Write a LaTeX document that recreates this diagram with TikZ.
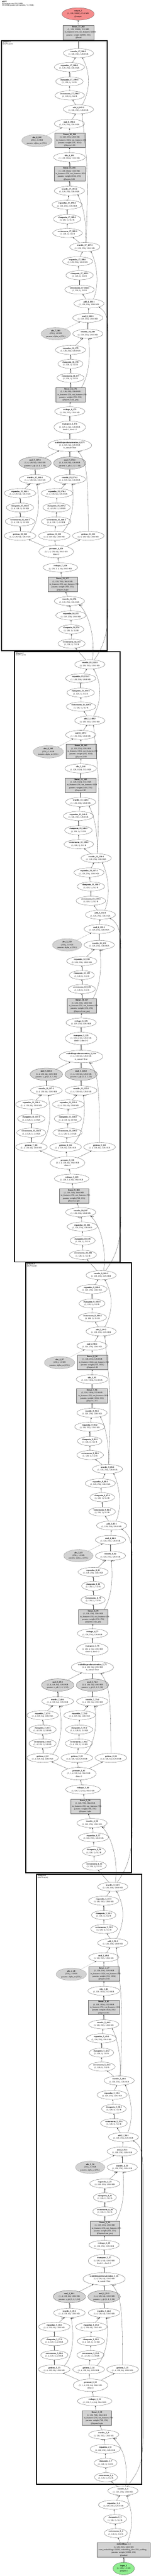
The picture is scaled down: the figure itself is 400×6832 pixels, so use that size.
\documentclass[tikz,border=0pt]{standalone}
\usepackage{fontspec}
\setmainfont{Liberation Serif}
\usetikzlibrary{shapes.geometric,arrows.meta}

\definecolor{parfill}{RGB}{211,211,211}
\definecolor{outfill}{RGB}{245,140,140}
\definecolor{infill}{RGB}{144,238,144}

\newcommand{\nodefont}{\fontsize{5.5}{7.3}\selectfont}
\newcommand{\hdrfont}{\fontsize{5}{5}\selectfont}
\newcommand{\argfont}{\fontsize{3.6}{4}\selectfont\bfseries}
\newcommand{\nm}[1]{\textbf{#1}}
\newcommand{\lng}[2]{\makebox[#1][l]{#2}}
\newcommand{\ix}[1]{\the\numexpr\tbase+#1\relax}

\tikzset{every picture/.style={line width=0.4pt}}
\tikzset{
  opnode/.style={ellipse, draw=black!75, inner xsep=2pt, inner ysep=1.5pt, minimum height=24pt, align=center, font=\nodefont},
  tall/.style={minimum height=33pt},
  parnode/.style={opnode, tall, fill=parfill},
  absnode/.style={opnode, tall, fill=parfill, dash pattern={on 1.5pt off 1.5pt}},
  modbox/.style={rectangle, draw=black!60, fill=parfill, inner xsep=4.5pt, inner ysep=2pt, align=center, font=\nodefont},
  conn/.style={draw=black!75, -{Triangle[length=3.6pt,width=2.6pt]}},
  dconn/.style={conn, dash pattern={on 1.5pt off 1.5pt}},
  argtxt/.style={font=\argfont, inner sep=0.6pt},
  clusterbox/.style={draw=black, line width=2.6pt},
  cltext/.style={anchor=north west, align=left, inner sep=0pt, font=\hdrfont},
}

% one nGPTLayer: #1 layer, #2 #3 shift, #4 input node, #5 #6 cluster left/right
\newcommand{\nlayer}[6]{%
\begin{scope}[shift={(#2,#3)}]
\pgfmathtruncatemacro\tbase{6+49*#1}
\pgfmathtruncatemacro\nva{2+4*#1}
\pgfmathtruncatemacro\nvb{3+4*#1}
\pgfmathtruncatemacro\nvc{4+4*#1}
\pgfmathtruncatemacro\nvd{5+4*#1}
\pgfmathtruncatemacro\nla{1+4*#1}
\pgfmathtruncatemacro\nlb{2+4*#1}
\pgfmathtruncatemacro\nlc{3+4*#1}
\pgfmathtruncatemacro\nld{4+4*#1}
\pgfmathtruncatemacro\nra{1+2*#1}
\pgfmathtruncatemacro\nrb{2+2*#1}
\pgfmathtruncatemacro\nk{1+#1}
\pgfmathtruncatemacro\nga{1+3*#1}
\pgfmathtruncatemacro\ngb{2+3*#1}
\pgfmathtruncatemacro\ngc{3+3*#1}
%Cluster
\draw[clusterbox] (#5,108) rectangle (#6,1726);
\node[cltext] (cl-#1) at (#5+3,109.5) {\textbf{@layers.#1}\\(nGPTLayer)};
%Input norm
\node[opnode] (vna-#1) at (190,1707) {\nm{vectornorm\_\nva\_\ix0}\\(1, 128, 1), 512 B};
\node[opnode] (cma-#1) at (189,1669) {\nm{clampmin\_\nva\_\ix1}\\(1, 128, 1), 512 B};
\node[opnode] (exa-#1) at (188,1632) {\nm{expandas\_\nva\_\ix2}\\(1, 128, 256), 128.0 KB};
\node[opnode] (tda-#1) at (184,1594) {\nm{truediv\_\nva\_\ix3}\\(1, 128, 256), 128.0 KB};
%Attention
\node[modbox] (qkv-#1) at (166,1550) {\nm{linear\_\nla\_\ix4}\\(1, 128, 768), 384.0 KB\\\lng{69pt}{in\_features=256, out\_features=768}\\params: weight (768, 256)\\@layers.#1.qkv};
\node[opnode] (rsa-#1) at (160,1505) {\nm{reshape\_\nra\_\ix5}\\(1, 128, 3, 4, 64), 384.0 KB};
\node[opnode, tall] (prm-#1) at (149,1463) {\nm{permute\_\nk\_\ix6}\\(3, 1, 4, 128, 64), 384.0 KB\\dims=2};
\node[opnode] (gia-#1) at (53,1421) {\nm{getitem\_\nga\_\ix7}\\(1, 4, 128, 64), 128.0 KB};
\node[opnode] (gib-#1) at (144,1421) {\nm{getitem\_\ngb\_\ix8}\\(1, 4, 128, 64), 128.0 KB};
\node[opnode] (gic-#1) at (234,1421) {\nm{getitem\_\ngc\_\ix9}\\(1, 4, 128, 64), 128.0 KB};
\node[opnode] (vnb1-#1) at (53,1383) {\nm{vectornorm\_\nvb\_\ix{10}:1}\\(1, 4, 128, 1), 2.0 KB};
\node[opnode] (cmb1-#1) at (53,1346) {\nm{clampmin\_\nvb\_\ix{11}:1}\\(1, 4, 128, 1), 2.0 KB};
\node[opnode] (exb1-#1) at (53,1308) {\nm{expandas\_\nvb\_\ix{12}:1}\\(1, 4, 128, 64), 128.0 KB};
\node[opnode] (tdb1-#1) at (93,1271) {\nm{truediv\_\nvb\_\ix{13}:1}\\(1, 4, 128, 64), 128.0 KB};
\node[parnode] (mqa-#1) at (93,1228) {\nm{mul\_\nra\_\ix{14}:1}\\(1, 4, 128, 64), 128.0 KB\\params: s\_qk (1, 4, 1, 64)};
\node[opnode] (vnb2-#1) at (149,1383) {\nm{vectornorm\_\nvb\_\ix{15}:2}\\(1, 4, 128, 1), 2.0 KB};
\node[opnode] (cmb2-#1) at (150,1346) {\nm{clampmin\_\nvb\_\ix{16}:2}\\(1, 4, 128, 1), 2.0 KB};
\node[opnode] (exb2-#1) at (151,1308) {\nm{expandas\_\nvb\_\ix{17}:2}\\(1, 4, 128, 64), 128.0 KB};
\node[opnode] (tdb2-#1) at (185,1271) {\nm{truediv\_\nvb\_\ix{18}:2}\\(1, 4, 128, 64), 128.0 KB};
\node[parnode] (mqb-#1) at (185,1228) {\nm{mul\_\nra\_\ix{19}:2}\\(1, 4, 128, 64), 128.0 KB\\params: s\_qk (1, 4, 1, 64)};
\node[opnode, tall] (sdp-#1) at (185,1181) {\nm{scaleddotproductattention\_\nk\_\ix{20}}\\(1, 4, 128, 64), 128.0 KB\\is\_causal=True};
\node[opnode, tall] (trp-#1) at (185,1133) {\nm{transpose\_\nk\_\ix{21}}\\(1, 128, 4, 64), 128.0 KB\\dim0=1, dim1=2};
\node[opnode] (rsb-#1) at (185,1091) {\nm{reshape\_\nrb\_\ix{22}}\\(1, 128, 256), 128.0 KB};
\node[modbox] (prj-#1) at (187,1047) {\nm{linear\_\nlb\_\ix{23}}\\(1, 128, 256), 128.0 KB\\\lng{69pt}{in\_features=256, out\_features=256}\\params: weight (256, 256)\\@layers.#1.out\_proj};
\node[opnode] (vnc-#1) at (187,1002) {\nm{vectornorm\_\nvc\_\ix{24}}\\(1, 128, 1), 512 B};
\node[opnode] (cmc-#1) at (187,965) {\nm{clampmin\_\nvc\_\ix{25}}\\(1, 128, 1), 512 B};
\node[opnode] (exc-#1) at (187,928) {\nm{expandas\_\nvc\_\ix{26}}\\(1, 128, 256), 128.0 KB};
\node[opnode] (tdc-#1) at (233,885) {\nm{truediv\_\nvc\_\ix{27}}\\(1, 128, 256), 128.0 KB};
\node[absnode] (aba-#1) at (148,885) {\nm{abs\_\nra\_\ix{28}}\\(256,), 1.0 KB\\params: alpha\_a (256,)};
\node[opnode] (mab-#1) at (233,843) {\nm{mul\_\nrb\_\ix{29}:1}\\(1, 128, 256), 128.0 KB};
\node[opnode] (ada-#1) at (236,805) {\nm{add\_\nk\_\ix{30}:1}\\(1, 128, 256), 128.0 KB};
%Residual norms
\node[opnode] (vnd1-#1) at (211,768) {\nm{vectornorm\_\nvd\_\ix{31}:1}\\(1, 128, 1), 512 B};
\node[opnode] (cmd1-#1) at (211,730) {\nm{clampmin\_\nvd\_\ix{32}:1}\\(1, 128, 1), 512 B};
\node[opnode] (exd1-#1) at (206,693) {\nm{expandas\_\nvd\_\ix{33}:1}\\(1, 128, 256), 128.0 KB};
\node[opnode] (tdd1-#1) at (225,655) {\nm{truediv\_\nvd\_\ix{34}:1}\\(1, 128, 256), 128.0 KB};
\node[opnode] (vnd2-#1) at (179,618) {\nm{vectornorm\_\nvd\_\ix{35}:2}\\(1, 128, 1), 512 B};
\node[opnode] (cmd2-#1) at (178,581) {\nm{clampmin\_\nvd\_\ix{36}:2}\\(1, 128, 1), 512 B};
\node[opnode] (exd2-#1) at (178,543) {\nm{expandas\_\nvd\_\ix{37}:2}\\(1, 128, 256), 128.0 KB};
\node[opnode] (tdd2-#1) at (184,506) {\nm{truediv\_\nvd\_\ix{38}:2}\\(1, 128, 256), 128.0 KB};
%Feed forward
\node[modbox] (ffa-#1) at (184,461) {\nm{linear\_\nlc\_\ix{39}}\\(1, 128, 1024), 512.0 KB\\\lng{73pt}{in\_features=256, out\_features=1024}\\params: weight (1024, 256)\\@layers.#1.ff1};
\node[opnode] (slu-#1) at (184,417) {\nm{silu\_\nk\_\ix{40}}\\(1, 128, 1024), 512.0 KB};
\node[modbox] (ffb-#1) at (185,372) {\nm{linear\_\nld\_\ix{41}}\\(1, 128, 256), 128.0 KB\\\lng{72pt}{in\_features=1024, out\_features=256}\\params: weight (256, 1024)\\@layers.#1.ff2};
\node[absnode] (abb-#1) at (98,373) {\nm{abs\_\nrb\_\ix{42}}\\(256,), 1.0 KB\\params: alpha\_m (256,)};
\node[opnode] (mbb-#1) at (184,328) {\nm{mul\_\nrb\_\ix{43}:2}\\(1, 128, 256), 128.0 KB};
\node[opnode] (adb-#1) at (208,290) {\nm{add\_\nk\_\ix{44}:2}\\(1, 128, 256), 128.0 KB};
\node[opnode] (vnd3-#1) at (185,253) {\nm{vectornorm\_\nvd\_\ix{45}:3}\\(1, 128, 1), 512 B};
\node[opnode] (cmd3-#1) at (184,216) {\nm{clampmin\_\nvd\_\ix{46}:3}\\(1, 128, 1), 512 B};
\node[opnode] (exd3-#1) at (184,178) {\nm{expandas\_\nvd\_\ix{47}:3}\\(1, 128, 256), 128.0 KB};
\node[opnode] (tdd3-#1) at (208,141) {\nm{truediv\_\nvd\_\ix{48}:3}\\(1, 128, 256), 128.0 KB};
%Connectors
\draw[conn] (#4) -- (vna-#1);
\draw[conn] (vna-#1) -- (cma-#1);
\draw[conn] (cma-#1) -- (exa-#1);
\draw[conn] (exa-#1) -- (tda-#1) node[argtxt, pos=1, anchor=north east] {arg 1};
\draw[conn] (#4.60) .. controls +(8,-60) and +(25,25) .. (tda-#1.-20) node[argtxt, pos=1, anchor=north west] {arg 0};
\draw[conn] (tda-#1) -- (qkv-#1);
\draw[conn] (qkv-#1) -- (rsa-#1);
\draw[conn] (rsa-#1) -- (prm-#1);
\draw[conn] (prm-#1) -- (gia-#1);
\draw[conn] (prm-#1) -- (gib-#1);
\draw[conn] (prm-#1) -- (gic-#1);
\draw[conn] (gia-#1) -- (vnb1-#1);
\draw[conn] (vnb1-#1) -- (cmb1-#1);
\draw[conn] (cmb1-#1) -- (exb1-#1);
\draw[conn] (exb1-#1) -- (tdb1-#1) node[argtxt, pos=1, anchor=north east] {arg 1};
\draw[conn] (gia-#1.20) .. controls +(25,-25) and +(8,45) .. (tdb1-#1.-70) node[argtxt, pos=1, anchor=north west] {arg 0};
\draw[conn] (tdb1-#1) -- (mqa-#1);
\draw[conn] (mqa-#1) -- (sdp-#1);
\draw[conn] (gib-#1) -- (vnb2-#1);
\draw[conn] (vnb2-#1) -- (cmb2-#1);
\draw[conn] (cmb2-#1) -- (exb2-#1);
\draw[conn] (exb2-#1) -- (tdb2-#1) node[argtxt, pos=1, anchor=north east] {arg 1};
\draw[conn] (gib-#1.25) .. controls +(25,-25) and +(8,45) .. (tdb2-#1.-65) node[argtxt, pos=1, anchor=north west] {arg 0};
\draw[conn] (tdb2-#1) -- (mqb-#1);
\draw[conn] (mqb-#1) -- (sdp-#1);
\draw[conn] (gic-#1.north) .. controls +(0,-170) and +(20,30) .. (sdp-#1.-35) node[argtxt, pos=1, anchor=north west] {arg 2};
\draw[conn] (sdp-#1) -- (trp-#1);
\draw[conn] (trp-#1) -- (rsb-#1);
\draw[conn] (rsb-#1) -- (prj-#1);
\draw[conn] (prj-#1) -- (vnc-#1);
\draw[conn] (vnc-#1) -- (cmc-#1);
\draw[conn] (cmc-#1) -- (exc-#1);
\draw[conn] (exc-#1) -- (tdc-#1) node[argtxt, pos=1, anchor=north east] {arg 1};
\draw[conn] ([xshift=29pt]prj-#1.north) .. controls +(20,-35) and +(4,55) .. (tdc-#1.-80) node[argtxt, pos=1, anchor=north west] {arg 0};
\draw[conn] (tdc-#1) -- (mab-#1);
\draw[dconn] (aba-#1) -- (mab-#1);
\draw[conn] (mab-#1) -- (ada-#1);
\draw[conn] (#4.45) .. controls +(25,-35) and +(0,80) .. (#6+3,1600) -- (#6+3,900) .. controls +(0,-40) and +(25,15) .. (ada-#1.-20);
\draw[conn] (ada-#1) -- (vnd1-#1);
\draw[conn] (vnd1-#1) -- (cmd1-#1);
\draw[conn] (cmd1-#1) -- (exd1-#1);
\draw[conn] (exd1-#1) -- (tdd1-#1);
\draw[conn] (ada-#1.45) .. controls +(15,-35) and +(18,40) .. (tdd1-#1.-35);
\draw[conn] (tdd1-#1) -- (vnd2-#1);
\draw[conn] (vnd2-#1) -- (cmd2-#1);
\draw[conn] (cmd2-#1) -- (exd2-#1);
\draw[conn] (exd2-#1) -- (tdd2-#1);
\draw[conn] (tdd1-#1.80) .. controls +(3,-50) and +(15,30) .. (tdd2-#1.-25);
\draw[conn] (tdd1-#1.75) .. controls +(8,-220) and +(10,120) .. (adb-#1.-50);
\draw[conn] (tdd2-#1) -- (ffa-#1);
\draw[conn] (ffa-#1) -- (slu-#1);
\draw[conn] (slu-#1) -- (ffb-#1);
\draw[conn] (ffb-#1) -- (mbb-#1);
\draw[dconn] (abb-#1) -- (mbb-#1);
\draw[conn] (mbb-#1) -- (adb-#1);
\draw[conn] (adb-#1) -- (vnd3-#1);
\draw[conn] (vnd3-#1) -- (cmd3-#1);
\draw[conn] (cmd3-#1) -- (exd3-#1);
\draw[conn] (exd3-#1) -- (tdd3-#1);
\draw[conn] (adb-#1.50) .. controls +(22,-40) and +(22,40) .. (tdd3-#1.-50);
\end{scope}}

\begin{document}
\begin{tikzpicture}[x=1pt,y=1pt,yscale=-1,xscale=1]
\useasboundingbox (0,0) rectangle (400,6832);

% Text Node
\node[cltext] (title) at (5,2.5) {\textbf{nGPT}\\204 tensors total (54.2 MB)\\19532800 params (all trainable, 74.5 MB)};

%Input and embedding
\node[opnode, tall, fill=infill] (inp) at (328,6812) {\nm{input\_1}\\(1, 128), 1.0 KB\\@input.x};
\node[modbox] (emb) at (328,6763) {\nm{embedding\_1\_1}\\(1, 128, 256), 128.0 KB\\\lng{132pt}{num\_embeddings=32000, embedding\_dim=256, padding}\\params: weight (32000, 256)\\@embed};
\node[opnode] (vn0) at (307,6718) {\nm{vectornorm\_1\_2}\\(1, 128, 1), 512 B};
\node[opnode] (cm0) at (305,6681) {\nm{clampmin\_1\_3}\\(1, 128, 1), 512 B};
\node[opnode] (ex0) at (301,6643) {\nm{expandas\_1\_4}\\(1, 128, 256), 128.0 KB};
\node[opnode] (td0) at (326,6606) {\nm{truediv\_1\_5}\\(1, 128, 256), 128.0 KB};
\draw[conn] (inp) -- (emb);
\draw[conn] (emb) -- (vn0);
\draw[conn] (vn0) -- (cm0);
\draw[conn] (cm0) -- (ex0);
\draw[conn] (ex0) -- (td0) node[argtxt, pos=1, anchor=north east] {arg 1};
\draw[conn] ([xshift=10pt]emb.north) .. controls +(16,-50) and +(16,50) .. (td0.-50) node[argtxt, pos=1, anchor=north west] {arg 0};

%Layers
\nlayer{0}{91}{4863}{td0}{6}{285}
\nlayer{1}{60}{3241}{tdd3-0}{8}{288}
\nlayer{2}{30}{1621}{tdd3-1}{8}{288}
\nlayer{3}{0}{0}{tdd3-2}{4}{284}

%Head and output
\node[modbox] (head) at (208,86) {\nm{linear\_17\_202}\\(1, 128, 32000), 15.6 MB\\\lng{73pt}{in\_features=256, out\_features=32000}\\params: weight (32000, 256)\\@head};
\node[opnode, tall, fill=outfill] (outp) at (207,37) {\nm{output\_1}\\(1, 128, 32000), 15.6 MB\\@output};
\draw[conn] (tdd3-3) -- (head);
\draw[conn] (head) -- (outp);

\end{tikzpicture}
\end{document}
